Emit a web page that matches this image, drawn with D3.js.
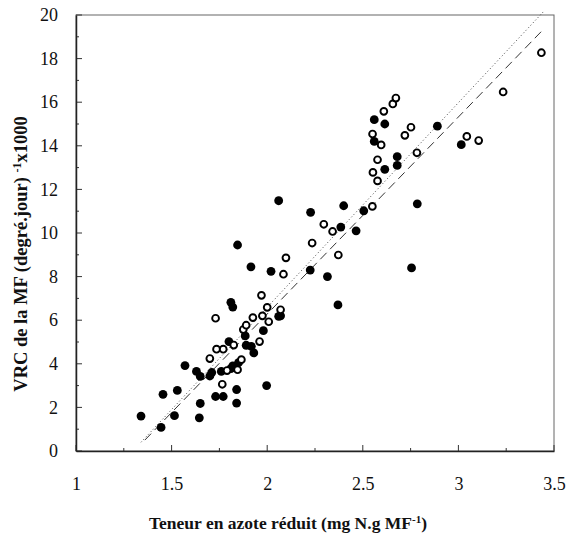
<!DOCTYPE html>
<html>
<head>
<meta charset="utf-8">
<script src="https://cdn.jsdelivr.net/npm/d3@7"></script>
<style>
    body { margin: 0; background: #fff; }
    #chart { width: 568px; height: 537px; }
    text { font-family: "Liberation Serif", "Times New Roman", serif; fill: #111; }
</style>
</head>
<body>
<div id="chart"></div>
<script>

// filled circles (N content, VRC)
let filledX = [1.34, 1.445, 1.455, 1.515, 1.53, 1.57, 1.63, 1.645, 1.65, 1.65, 1.70, 1.71, 1.73, 1.77, 1.76, 1.81, 1.80, 1.81, 1.82,
    1.84, 1.84, 1.82, 1.845, 1.85, 1.89, 1.885, 1.917, 1.93, 1.915, 1.98, 1.997, 2.02, 2.06, 2.07, 2.06, 2.225, 2.227, 2.315,
    2.37, 2.385, 2.40, 2.465, 2.505, 2.56, 2.56, 2.615, 2.615, 2.68, 2.68, 2.755, 2.785, 2.89, 3.015]
let filledY = [1.6, 1.08, 2.6, 1.62, 2.78, 3.92, 3.65, 1.52, 2.18, 3.42, 3.44, 3.6, 2.5, 2.5, 3.65, 3.78, 5.02, 6.82, 6.6,
    2.82, 2.2, 3.9, 9.45, 4.05, 4.85, 5.28, 4.8, 4.5, 8.45, 5.52, 3.0, 8.24, 6.18, 6.2, 11.48, 8.3, 10.95, 8.0,
    6.7, 10.27, 11.25, 10.1, 11.02, 15.2, 14.2, 15.0, 12.92, 13.5, 13.1, 8.4, 11.34, 14.9, 14.05]

// open circles
let openX = [1.73, 1.70, 1.735, 1.77, 1.765, 1.79, 1.825, 1.845, 1.865, 1.875, 1.89, 1.925, 1.96, 1.97, 1.975, 2.0, 2.008,
    2.07, 2.085, 2.098, 2.235, 2.296, 2.342, 2.372, 2.55, 2.553, 2.551, 2.577, 2.577, 2.596, 2.61, 2.657, 2.673, 2.72,
    2.752, 2.783, 3.044, 3.106, 3.234, 3.434]
let openY = [6.09, 4.24, 4.67, 4.67, 3.06, 3.69, 4.86, 3.73, 4.19, 5.57, 5.77, 6.12, 5.02, 7.14, 6.2, 6.59, 5.93,
    6.48, 8.11, 8.86, 9.54, 10.4, 10.07, 8.99, 11.22, 12.78, 14.54, 12.39, 13.36, 14.04, 15.58, 15.92, 16.19, 14.48,
    14.85, 13.68, 14.43, 14.24, 16.47, 18.27]

// fitted lines (end points)
let dottedLine = [[1.34, 0.4], [3.45, 20.2]]
let dashedLine = [[1.36, 0.5], [3.44, 19.3]]

// ticks
let xTickLabels = [1, 1.5, 2, 2.5, 3, 3.5]
let yTickLabels = [0, 2, 4, 6, 8, 10, 12, 14, 16, 18, 20]


class ScatterVis {

    constructor(parentElement) {
        this.parentElement = parentElement;
        this.initVis()
    }

    initVis() {
        let vis = this;

        vis.margin = {top: 15, right: 14, bottom: 86, left: 76};
        vis.width = 568 - vis.margin.left - vis.margin.right;
        vis.height = 537 - vis.margin.top - vis.margin.bottom;

        vis.svg = d3.select("#" + vis.parentElement).append("svg")
            .attr("width", 568)
            .attr("height", 537)
            .append("g")
            .attr("transform", `translate(${vis.margin.left}, ${vis.margin.top})`);

        vis.x = d3.scaleLinear().domain([1, 3.5]).range([0, vis.width]);
        vis.y = d3.scaleLinear().domain([0, 20]).range([vis.height, 0]);

        vis.wrangleData()
    }

    wrangleData() {
        let vis = this;
        vis.filled = filledX.map((x, i) => ({x: x, y: filledY[i]}));
        vis.open = openX.map((x, i) => ({x: x, y: openY[i]}));
        vis.updateVis()
    }

    updateVis() {
        let vis = this;

        // frame (top / right)
        vis.svg.append("rect")
            .attr("width", vis.width)
            .attr("height", vis.height)
            .attr("fill", "none")
            .attr("stroke", "#666")
            .attr("stroke-width", 1);

        // minor + major ticks, drawn inward
        let xMinor = d3.range(1, 3.5001, 0.25);
        vis.svg.selectAll(".xtick")
            .data(xMinor)
            .enter().append("line")
            .attr("class", "xtick")
            .attr("x1", d => vis.x(d)).attr("x2", d => vis.x(d))
            .attr("y1", vis.height)
            .attr("y2", d => vis.height - (Math.abs(d * 2 - Math.round(d * 2)) < 1e-6 ? 6 : 3))
            .attr("stroke", "#333");

        let yMinor = d3.range(0, 20.001, 1);
        vis.svg.selectAll(".ytick")
            .data(yMinor)
            .enter().append("line")
            .attr("class", "ytick")
            .attr("y1", d => vis.y(d)).attr("y2", d => vis.y(d))
            .attr("x1", 0)
            .attr("x2", d => d % 2 === 0 ? 6 : 3)
            .attr("stroke", "#333");

        // axes with labels only
        let xAxis = d3.axisBottom(vis.x).tickValues(xTickLabels).tickSize(0).tickPadding(26)
            .tickFormat(d3.format("~g"));
        let yAxis = d3.axisLeft(vis.y).tickValues(yTickLabels).tickSize(0).tickPadding(18);

        let gx = vis.svg.append("g")
            .attr("transform", `translate(0, ${vis.height})`)
            .call(xAxis);
        let gy = vis.svg.append("g").call(yAxis);

        [gx, gy].forEach(g => {
            g.attr("font-family", "Liberation Serif").attr("font-size", 18);
            g.select(".domain").attr("stroke", "#222").attr("stroke-width", 1.5);
            g.selectAll("text").style("font-size", "18px").style("font-family", "Liberation Serif");
        });

        // lines
        let line = d3.line().x(d => vis.x(d[0])).y(d => vis.y(d[1]));
        vis.svg.append("path")
            .datum(dottedLine)
            .attr("d", line)
            .attr("fill", "none")
            .attr("stroke", "#444")
            .attr("stroke-width", 1)
            .attr("stroke-dasharray", "1,2.5");
        vis.svg.append("path")
            .datum(dashedLine)
            .attr("d", line)
            .attr("fill", "none")
            .attr("stroke", "#333")
            .attr("stroke-width", 1)
            .attr("stroke-dasharray", "9,5");

        // points
        vis.svg.selectAll(".filled")
            .data(vis.filled)
            .enter().append("circle")
            .attr("class", "filled")
            .attr("cx", d => vis.x(d.x))
            .attr("cy", d => vis.y(d.y))
            .attr("r", 4.4)
            .attr("fill", "#000");

        vis.svg.selectAll(".open")
            .data(vis.open)
            .enter().append("circle")
            .attr("class", "open")
            .attr("cx", d => vis.x(d.x))
            .attr("cy", d => vis.y(d.y))
            .attr("r", 3.4)
            .attr("fill", "#fff")
            .attr("stroke", "#000")
            .attr("stroke-width", 1.9);

        // axis titles
        let xt = vis.svg.append("text")
            .attr("x", 288 - vis.margin.left)
            .attr("y", vis.height + 78)
            .attr("text-anchor", "middle")
            .style("font-size", "17.5px")
            .style("font-weight", "bold");
        xt.append("tspan").text("Teneur en azote réduit (mg N.g MF");
        xt.append("tspan").attr("dy", -6).style("font-size", "11px").text("-1");
        xt.append("tspan").attr("dy", 6).text(")");

        let yt = vis.svg.append("text")
            .attr("transform", `translate(-49, ${254 - vis.margin.top}) rotate(-90)`)
            .attr("text-anchor", "middle")
            .style("font-size", "18.5px")
            .style("font-weight", "bold");
        yt.append("tspan").text("VRC de la MF (degré.jour) ");
        yt.append("tspan").attr("dy", -6).style("font-size", "12px").text("-1");
        yt.append("tspan").attr("dy", 6).text("x1000");
    }
}

new ScatterVis("chart");
</script>
</body>
</html>
